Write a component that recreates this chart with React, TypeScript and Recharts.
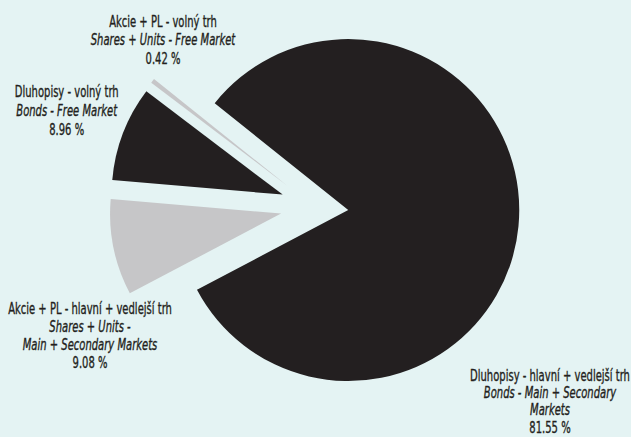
import React from "react";
import { PieChart, Pie, Cell } from "recharts";

// market segments, counterclockwise from the big slice
const segments = ["bondsMain", "sharesFree", "bondsFree", "sharesMain"];
const shares = [81.55, 0.42, 8.96, 9.08];
const labelsCz = [
  "Dluhopisy - hlavní + vedlejší trh",
  "Akcie + PL - volný trh",
  "Dluhopisy - volný trh",
  "Akcie + PL - hlavní + vedlejší trh",
];
const labelsEn = [
  ["Bonds - Main + Secondary", "Markets"],
  ["Shares + Units - Free Market"],
  ["Bonds - Free Market"],
  ["Shares + Units -", "Main + Secondary Markets"],
];

const colors = ["#231f20", "#c6c6c8", "#231f20", "#c6c6c8"];
const BG = "#e4f3f3";
const INK = "#231f20";
const FONT = "'DejaVu Sans Condensed', 'DejaVu Sans', sans-serif";

const W = 631;
const H = 437;
const CX = 314.4;
const CY = 206.8;
const R = 171;
const EXPLODE = 34;
const START = -152.2;

// where each label block sits relative to pie centre (first baseline)
const labelPos = [
  { dx: 235.6, dy: 174, lh: 17.3 },
  { dx: -151.4, dy: -180, lh: 18.5 },
  { dx: -247.7, dy: -109.5, lh: 19 },
  { dx: -224.4, dy: 107.5, lh: 17.8 },
];
const FS = 16;
const SX = 0.695;

const data = segments.map((name, i) => ({ name, value: shares[i] }));

// mid angle of every slice, from the data
const total = shares.reduce((a, b) => a + b, 0);
const midAngles: number[] = [];
let acc = START;
shares.forEach((v) => {
  const span = (v / total) * 360;
  midAngles.push(acc + span / 2);
  acc += span;
});

const renderLabel = (props: any) => {
  const i = props.index;
  const p = labelPos[i];
  const x = CX + p.dx;
  const y = CY + p.dy;
  const lines = [
    { t: labelsCz[i], it: false },
    ...labelsEn[i].map((t) => ({ t, it: true })),
    { t: `${shares[i].toFixed(2)} %`, it: false },
  ];
  return (
    <g transform={`translate(${x},${y}) scale(${SX},1)`}>
      {lines.map((l, k) => (
        <text
          key={k}
          x={0}
          y={k * p.lh}
          textAnchor="middle"
          fontFamily={FONT}
          fontSize={FS}
          fontStyle={l.it ? "italic" : "normal"}
          fill={INK}
          stroke={INK}
          strokeWidth={0.35}
        >
          {l.t}
        </text>
      ))}
    </g>
  );
};

export default function App() {
  return (
    <div style={{ position: "absolute", left: 0, top: 0, width: W, height: H, background: BG }}>
      <PieChart width={W} height={H} margin={{ top: 0, right: 0, bottom: 0, left: 0 }}>
        {segments.map((seg, si) => {
          const a = (midAngles[si] * Math.PI) / 180;
          return (
            <Pie
              key={seg}
              data={data}
              dataKey="value"
              nameKey="name"
              cx={CX + EXPLODE * Math.cos(a)}
              cy={CY - EXPLODE * Math.sin(a)}
              outerRadius={R}
              innerRadius={0}
              startAngle={START}
              endAngle={START + 360}
              stroke="none"
              isAnimationActive={false}
              label={si === 0 ? renderLabel : false}
              labelLine={false}
            >
              {data.map((d, i) => (
                <Cell key={d.name} fill={i === si ? colors[i] : "none"} stroke="none" />
              ))}
            </Pie>
          );
        })}
      </PieChart>
    </div>
  );
}
